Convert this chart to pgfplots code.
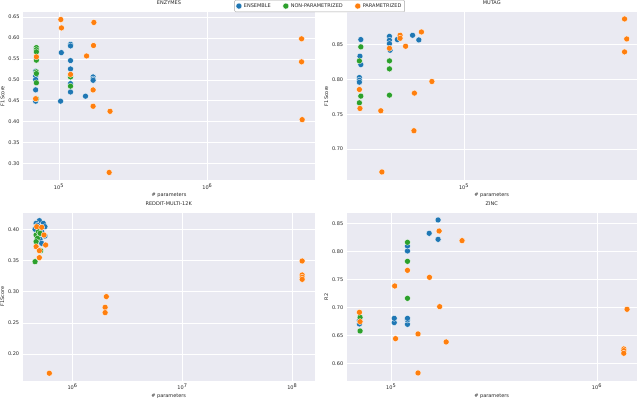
\documentclass[border=0pt]{standalone}
\usepackage{fontspec}
\setmainfont{DejaVu Sans}
\usepackage{pgfplots}
\pgfplotsset{compat=1.18}

\definecolor{bgcol}{HTML}{EAEAF2}
\definecolor{cblue}{HTML}{1F77B4}
\definecolor{corange}{HTML}{FF7F0E}
\definecolor{cgreen}{HTML}{2CA02C}
\definecolor{txt}{HTML}{262626}

\pgfplotsset{
  mypanel/.style={
    scale only axis, width=292pt, height=168pt,
    axis background/.style={fill=bgcol},
    axis line style={draw=none},
    tick style={draw=none},
    grid=major, grid style={white, line width=0.7pt},
    font=\fontsize{5}{6}\selectfont,
    every tick label/.append style={text=txt},
    /pgf/number format/assume math mode=true,
    yticklabel style={/pgf/number format/.cd, fixed, fixed zerofill, precision=2},
    title style={text=txt, inner sep=1pt},
    xlabel style={text=txt, yshift=3pt},
    ylabel style={text=txt, yshift=-3pt},
    xlabel={\# parameters},
    clip=false,
  },
  ensmk/.style={only marks, mark=*, mark size=3pt, mark options={fill=cblue, draw=white, line width=0.3pt}},
  nonpmk/.style={only marks, mark=*, mark size=3pt, mark options={fill=cgreen, draw=white, line width=0.3pt}},
  parmk/.style={only marks, mark=*, mark size=3pt, mark options={fill=corange, draw=white, line width=0.3pt}},
}

\begin{document}
\begin{tikzpicture}
\path[use as bounding box] (0,0) rectangle (640pt,398pt);

% ENZYMES
\begin{axis}[mypanel, xmode=log, anchor=south west, at={(23pt,218pt)},
  title={ENZYMES}, ylabel={F1Score},
  xmin=5.73e4, xmax=5.31e6, ymin=0.261, ymax=0.662,
  xtick={1e5,1e6}, xticklabels={10\textsuperscript{5},10\textsuperscript{6}},
  ytick={0.30,0.35,0.40,0.45,0.50,0.55,0.60,0.65},
  legend columns=3,
  legend style={at={(1.016,1.071)}, anchor=north, draw=black!35, line width=0.4pt, fill=white,
    rounded corners=1pt, inner sep=1.2pt, text=txt,
    /tikz/every even column/.append style={column sep=10pt}},
]
\addplot[ensmk] coordinates {(6.97e4,0.5206) (6.97e4,0.5087) (6.97e4,0.5007) (6.97e4,0.4761) (6.97e4,0.4491)
  (1.038e5,0.565) (1.026e5,0.4491) (1.197e5,0.585) (1.197e5,0.581) (1.197e5,0.546) (1.197e5,0.526)
  (1.197e5,0.491) (1.197e5,0.471) (1.70e5,0.507) (1.70e5,0.502) (1.70e5,0.499) (1.51e5,0.461)};
\addplot[nonpmk] coordinates {(7.05e4,0.577) (7.05e4,0.572) (7.05e4,0.567) (7.05e4,0.547) (7.05e4,0.519)
  (7.05e4,0.515) (7.05e4,0.493) (7.05e4,0.455) (1.197e5,0.507) (1.197e5,0.485)};
\addplot[parmk] coordinates {(7.05e4,0.555) (6.97e4,0.455) (1.03e5,0.644) (1.04e5,0.624) (1.72e5,0.637)
  (1.71e5,0.582) (1.535e5,0.557) (1.197e5,0.513) (1.70e5,0.476) (1.70e5,0.437) (2.21e5,0.425)
  (2.18e5,0.279) (4.31e6,0.598) (4.31e6,0.543) (4.35e6,0.405)};
\legend{ENSEMBLE, NON-PARAMETRIZED, PARAMETRIZED}
\end{axis}

% MUTAG
\begin{axis}[mypanel, xmode=log, anchor=south west, at={(346.7pt,218pt)}, width=290pt,
  title={MUTAG}, ylabel={F1Score},
  xmin=2.69e4, xmax=6.91e5, ymin=0.6556, ymax=0.8968,
  xtick={1e5}, xticklabels={10\textsuperscript{5}},
  ytick={0.70,0.75,0.80,0.85},
]
\addplot[ensmk] coordinates {(3.15e4,0.8572) (3.12e4,0.8333) (3.15e4,0.8213) (3.10e4,0.8027) (3.10e4,0.7989)
  (3.10e4,0.7960) (4.34e4,0.8619) (4.34e4,0.8562) (4.34e4,0.8514) (4.37e4,0.8419) (4.74e4,0.8572)
  (5.62e4,0.8634) (6.03e4,0.8567)};
\addplot[nonpmk] coordinates {(3.15e4,0.8467) (3.10e4,0.8266) (3.15e4,0.776) (3.10e4,0.7664)
  (4.34e4,0.8266) (4.34e4,0.8151) (4.34e4,0.7774)};
\addplot[parmk] coordinates {(3.10e4,0.7855) (3.12e4,0.7583) (3.94e4,0.7550) (3.99e4,0.6671) (4.34e4,0.8447)
  (4.89e4,0.8634) (4.89e4,0.8591) (5.20e4,0.8476) (6.21e4,0.8681) (5.71e4,0.7263) (5.74e4,0.7803)
  (6.98e4,0.7970) (6.03e5,0.8868) (6.18e5,0.8581) (6.03e5,0.8395)};
\end{axis}

% REDDIT-MULTI-12K
\begin{axis}[mypanel, xmode=log, anchor=south west, at={(22.7pt,17.3pt)},
  title={REDDIT-MULTI-12K}, ylabel={F1Score},
  xmin=3.52e5, xmax=1.60e8, ymin=0.157, ymax=0.4273,
  xtick={1e6,1e7,1e8}, xticklabels={10\textsuperscript{6},10\textsuperscript{7},10\textsuperscript{8}},
  ytick={0.20,0.25,0.30,0.35,0.40},
]
\addplot[ensmk] coordinates {(4.99e5,0.4145) (4.66e5,0.4102) (5.42e5,0.4102) (5.61e5,0.4048) (4.56e5,0.4005)
  (5.24e5,0.3968) (4.89e5,0.3941) (5.61e5,0.3898) (5.06e5,0.3845) (5.24e5,0.378) (4.79e5,0.407) (5.13e5,0.402)};
\addplot[nonpmk] coordinates {(4.66e5,0.3914) (4.79e5,0.3861) (4.66e5,0.3807) (4.89e5,0.3968) (5.13e5,0.3662)
  (4.56e5,0.3485) (5.06e5,0.3941)};
\addplot[parmk] coordinates {(4.72e5,0.4048) (5.24e5,0.4038) (4.66e5,0.3727) (5.69e5,0.3753) (5.50e5,0.3914)
  (4.99e5,0.3662) (4.99e5,0.355) (6.15e5,0.169) (2.03e6,0.2923) (1.98e6,0.2751) (1.98e6,0.2665)
  (1.23e8,0.3496) (1.23e8,0.3271) (1.23e8,0.3234) (1.23e8,0.3201)};
\end{axis}

% ZINC
\begin{axis}[mypanel, xmode=log, anchor=south west, at={(346.7pt,17.3pt)}, width=290pt,
  title={ZINC}, ylabel={R2},
  xmin=6.08e4, xmax=1.56e6, ymin=0.569, ymax=0.869,
  xtick={1e5,1e6}, xticklabels={10\textsuperscript{5},10\textsuperscript{6}},
  ytick={0.60,0.65,0.70,0.75,0.80,0.85},
]
\addplot[ensmk] coordinates {(7.01e4,0.6703) (7.01e4,0.6763) (1.035e5,0.6727) (1.035e5,0.6804) (1.20e5,0.6697)
  (1.20e5,0.6774) (1.20e5,0.6804) (1.20e5,0.8006) (1.20e5,0.8095) (1.53e5,0.8322) (1.69e5,0.856) (1.69e5,0.8214)};
\addplot[nonpmk] coordinates {(7.06e4,0.6822) (7.06e4,0.6578) (1.20e5,0.8161) (1.20e5,0.7822) (1.20e5,0.7161)};
\addplot[parmk] coordinates {(7.01e4,0.6911) (7.06e4,0.6745) (1.04e5,0.7381) (1.05e5,0.6441) (1.20e5,0.7661)
  (1.35e5,0.6525) (1.35e5,0.5828) (1.535e5,0.7536) (1.71e5,0.8363) (1.72e5,0.7012) (1.85e5,0.6382)
  (2.21e5,0.8191) (1.40e6,0.6965) (1.35e6,0.6257) (1.35e6,0.6227) (1.35e6,0.6180)};
\end{axis}
\end{tikzpicture}
\end{document}
